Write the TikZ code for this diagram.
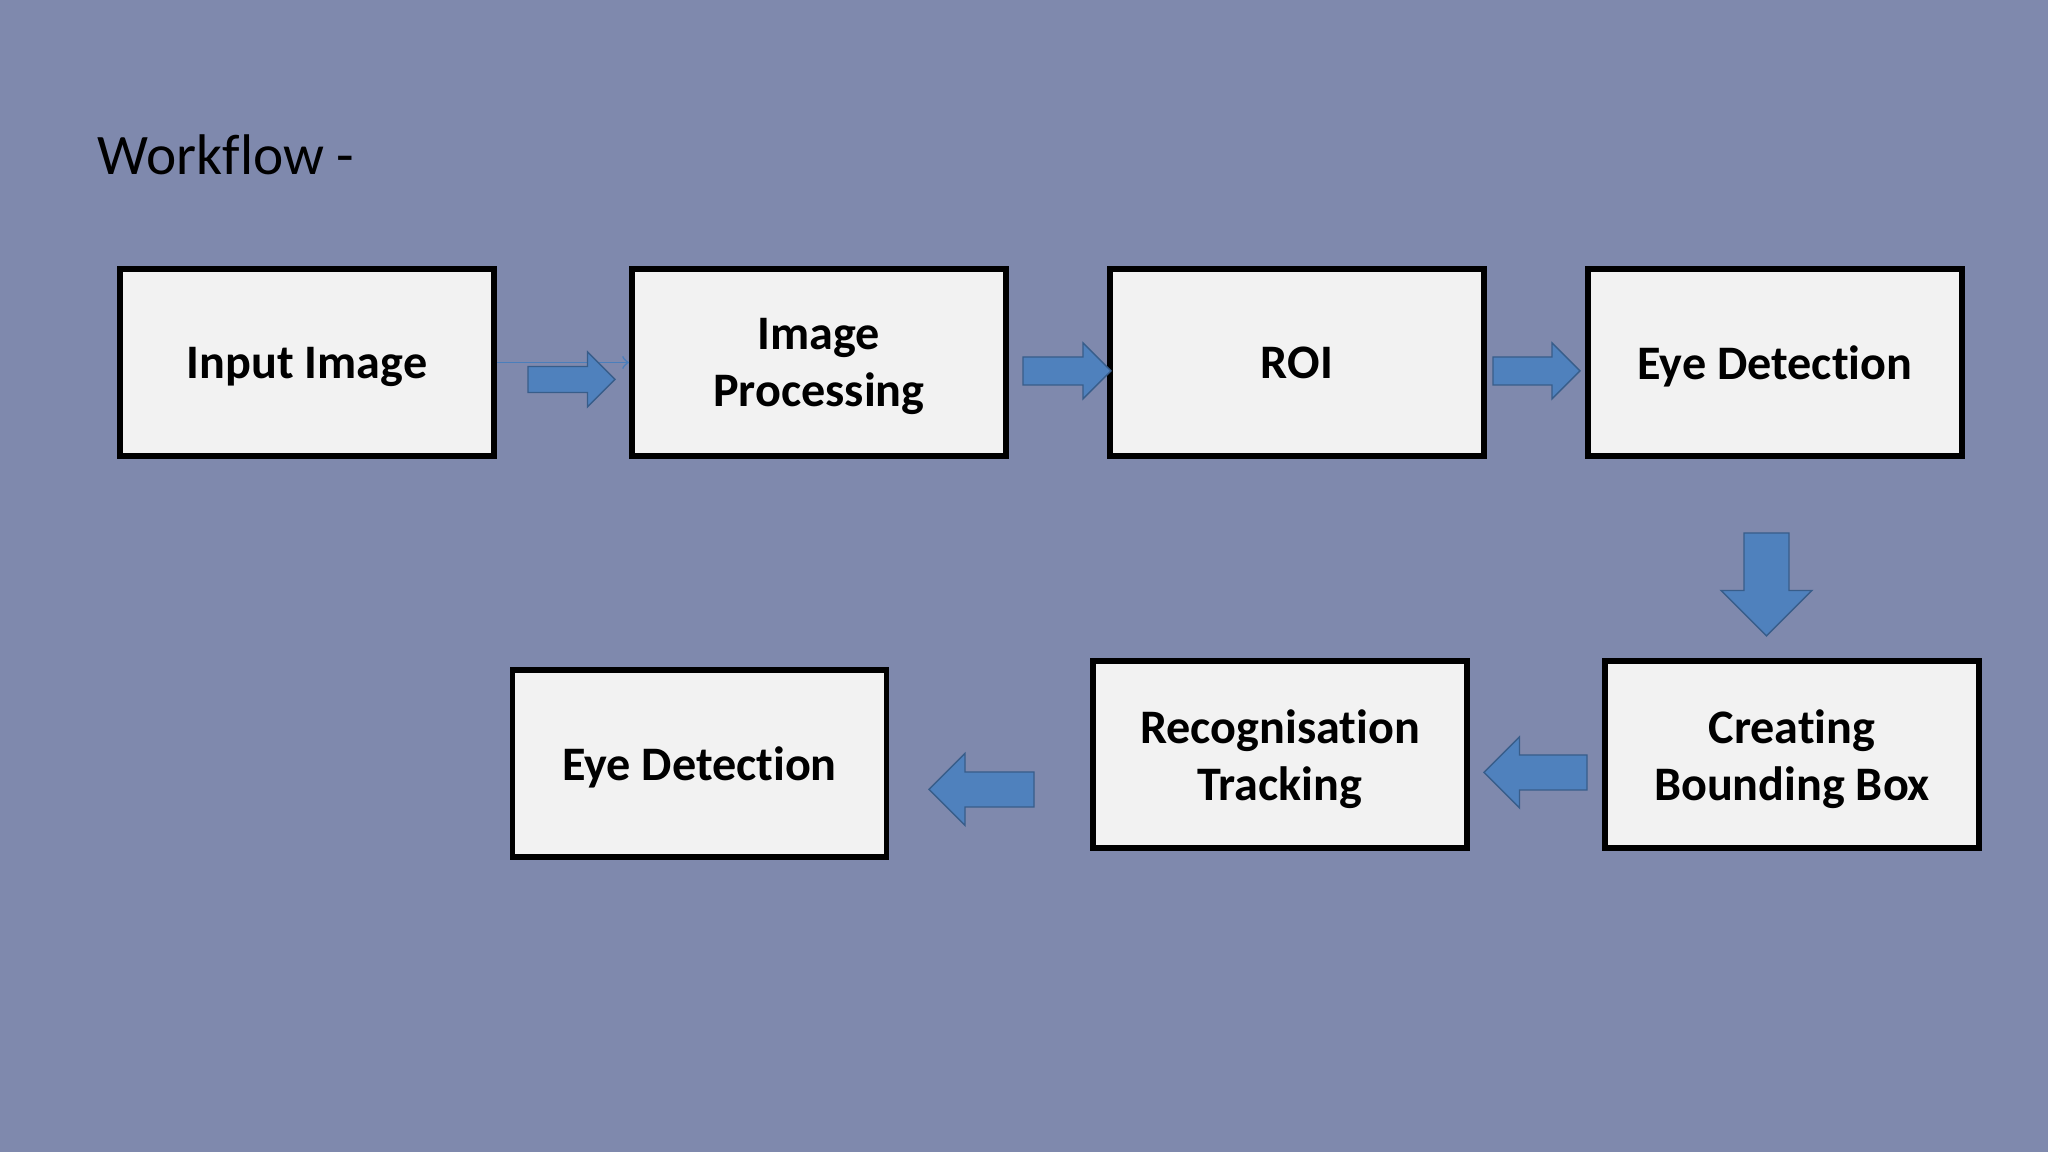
\documentclass[tikz,border=0pt]{standalone}
\usepackage{fontspec}
\setmainfont{Carlito}[Ligatures=NoCommon]
\definecolor{slide}{RGB}{127,137,173}
\definecolor{boxfill}{RGB}{242,242,242}
\definecolor{arrowfill}{RGB}{79,129,189}
\definecolor{arrowline}{RGB}{56,93,138}
\definecolor{linkline}{RGB}{74,126,187}
\begin{document}
\begin{tikzpicture}[
    box/.style={draw=black,fill=boxfill,line width=1.7pt,minimum width=3.74cm,minimum height=1.87cm,align=center,text depth=0pt,font=\fontsize{13.7}{16.3}\selectfont\bfseries},
    blockarrow/.style={draw=arrowline,fill=arrowfill,line width=0.4pt},
    link/.style={draw=linkline,line width=0.45pt,->}
]
\fill[slide] (0,0) rectangle (20.48,11.52);
\node[anchor=base west,inner sep=0pt,font=\fontsize{16.3}{19}\selectfont] (title) at (0.97,9.77) {Workflow -};
\node[box] (0) at (3.07,7.895) {Input Image};
\node[box] (1) at (8.19,7.895) {Image\\Processing};
\node[box] (2) at (12.97,7.895) {ROI};
\node[box] (3) at (17.75,7.89) {Eye Detection};
\node[box] (4) at (17.92,3.97) {Creating\\Bounding Box};
\node[box] (5) at (12.80,3.97) {Recognisation\\Tracking};
\node[box] (6) at (6.995,3.885) {Eye Detection};
\draw[link] (0) -- (1);
% block arrows: tail x/y, angle, length, half shaft, half head
\foreach \x/\y/\a/\l/\w/\h in {5.28/7.725/0/0.87/0.13/0.275, 10.23/7.81/0/0.88/0.14/0.28, 14.93/7.81/0/0.87/0.14/0.28, 17.665/6.19/-90/1.03/0.225/0.455, 15.87/3.795/180/1.03/0.175/0.355, 10.34/3.625/180/1.05/0.175/0.36} {
    \draw[blockarrow,shift={(\x,\y)},rotate=\a] (0,-\w) -- (\l-\h,-\w) -- (\l-\h,-\h) -- (\l,0) -- (\l-\h,\h) -- (\l-\h,\w) -- (0,\w) -- cycle;
}
\end{tikzpicture}
\end{document}
